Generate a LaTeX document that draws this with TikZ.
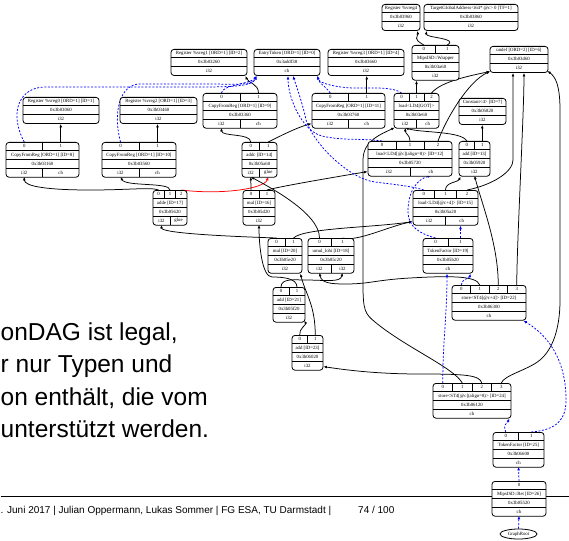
\documentclass[tikz,border=0pt]{standalone}
\usepackage{fontspec}
\setmainfont{Liberation Serif}
\newfontfamily\sansf{Liberation Sans}
\usetikzlibrary{arrows.meta,calc,shapes.geometric}
\pgfdeclarelayer{bg}
\pgfsetlayers{bg,main}
\def\rh{8.7}
\tikzset{
  dagbox/.style={draw, rounded corners=3pt, fill=white, line width=0.8pt, inner sep=0pt},
  div/.style={line width=0.45pt},
  dtxt/.style={inner sep=0pt, font=\fontsize{4.8}{5}\selectfont},
  dataedge/.style={line width=0.75pt, -{Latex[length=3.5pt,width=2.8pt]}},
  chainedge/.style={dataedge, blue, dash pattern=on 2pt off 1.6pt},
  glueedge/.style={dataedge, red},
  bodytext/.style={anchor=base west, inner sep=0pt, font=\sansf\fontsize{24.5}{29}\selectfont},
  foottext/.style={anchor=base west, inner sep=0pt, font=\sansf\fontsize{10}{12}\selectfont},
}
% #1 name #2 cx #3 top #4 width #5 nports #6 label #7 address #8 ntypes #9 types
\newcommand\dn[9]{%
  \pgfmathsetmacro\dnL{#2-(#4)/2}%
  \pgfmathsetmacro\dnR{#2+(#4)/2}%
  \ifnum#5>0 \def\dnoff{\rh}\def\dnrows{4}\else\def\dnoff{0}\def\dnrows{3}\fi
  \pgfmathsetmacro\dnH{\dnrows*\rh}%
  \pgfmathsetmacro\dnA{#3+\dnoff}%
  \node[dagbox,minimum width=#4pt,minimum height=\dnH pt,anchor=north] (#1) at (#2,#3) {};
  \ifnum#5>0
    \draw[div] (\dnL,\dnA) -- (\dnR,\dnA);
    \foreach \pidx in {1,...,#5}{%
      \pgfmathsetmacro\cx{\dnL+(\pidx-0.5)*(#4)/(#5)}%
      \pgfmathtruncatemacro\pj{\pidx-1}%
      \node[dtxt] at (\cx,{#3+\rh/2}) {\pj};
      \coordinate (#1-p\pj) at (\cx,#3);
      \ifnum\pidx>1 \pgfmathsetmacro\vx{\dnL+(\pidx-1)*(#4)/(#5)}\draw[div] (\vx,#3) -- (\vx,\dnA);\fi
    }%
  \fi
  \node[dtxt] at (#2,{\dnA+\rh/2}) {#6};
  \draw[div] (\dnL,{\dnA+\rh}) -- (\dnR,{\dnA+\rh});
  \node[dtxt] at (#2,{\dnA+1.5*\rh}) {#7};
  \draw[div] (\dnL,{\dnA+2*\rh}) -- (\dnR,{\dnA+2*\rh});
  \foreach \tp [count=\tk] in {#9}{%
    \pgfmathsetmacro\cx{\dnL+(\tk-0.5)*(#4)/(#8)}%
    \pgfmathtruncatemacro\tj{\tk-1}%
    \node[dtxt] at (\cx,{\dnA+2.5*\rh}) {\tp};
    \coordinate (#1-t\tj) at (\cx,{\dnA+3*\rh});
    \ifnum\tk>1 \pgfmathsetmacro\vx{\dnL+(\tk-1)*(#4)/(#8)}\draw[div] (\vx,{\dnA+2*\rh}) -- (\vx,{\dnA+3*\rh});\fi
  }%
}
\begin{document}
\begin{tikzpicture}[x=1pt,y=-1pt]
\useasboundingbox (0,0) rectangle (569,540);
% slide text
\node[bodytext] (t1) at (0.5,340) {onDAG ist legal,};
\node[bodytext] (t2) at (0.5,372.5) {r nur Typen und};
\node[bodytext] (t3) at (0.5,405) {on enthält, die vom};
\node[bodytext] (t4) at (0.5,437.5) {unterstützt werden.};
\node[foottext] (f1) at (0.5,513.5) {. Juni 2017 | Julian Oppermann, Lukas Sommer | FG ESA, TU Darmstadt |};
\node[foottext] (f2) at (358,513.5) {74 / 100};
% DAG nodes
\dn{vreg4}{401}{4}{38}{0}{Register \%vreg4}{0x3b03960}{1}{i32}
\dn{tga}{471}{4}{94}{0}{TargetGlobalAddress<i64* @c> 0 [TF=1]}{0x3b03860}{1}{i32}
\dn{wrap}{435.5}{45}{47}{2}{MipsISD::Wrapper}{0x3b03a60}{1}{i32}
\dn{undef}{519}{46}{58}{0}{undef [ORD=2] [ID=6]}{0x3b03d60}{1}{i32}
\dn{vreg1}{209}{49}{76}{0}{Register \%vreg1 [ORD=1] [ID=2]}{0x3b03260}{1}{i32}
\dn{entry}{287}{49}{66}{0}{EntryToken [ORD=1] [ID=0]}{0x3addf38}{1}{ch}
\dn{vreg3}{366}{49}{76}{0}{Register \%vreg3 [ORD=1] [ID=4]}{0x3b03660}{1}{i32}
\dn{vreg0}{61}{97}{76}{0}{Register \%vreg0 [ORD=1] [ID=1]}{0x3b03060}{1}{i32}
\dn{vreg2}{158.5}{97}{77}{0}{Register \%vreg2 [ORD=1] [ID=3]}{0x3b03460}{1}{i32}
\dn{cfr8}{42.5}{142}{73}{2}{CopyFromReg [ORD=1] [ID=8]}{0x3b03160}{2}{i32,ch}
\dn{cfr10}{139}{142}{74}{2}{CopyFromReg [ORD=1] [ID=10]}{0x3b03560}{2}{i32,ch}
\dn{cfr9}{240}{93}{74}{2}{CopyFromReg [ORD=1] [ID=9]}{0x3b03360}{2}{i32,ch}
\dn{cfr11}{348.5}{93}{73}{2}{CopyFromReg [ORD=1] [ID=11]}{0x3b03760}{2}{i32,ch}
\dn{got}{416.5}{93}{45}{3}{load<LD4[GOT]>}{0x3b03e60}{2}{i32,ch}
\dn{const}{482.5}{98}{47}{0}{Constant<4> [ID=7]}{0x3b05820}{1}{i32}
\dn{addc}{259.5}{142}{35}{2}{addc [ID=14]}{0x3b05a60}{2}{i32,glue}
\dn{ld12}{410}{141}{84}{3}{load<LD4[@c](align=8)> [ID=12]}{0x3b05720}{2}{i32,ch}
\dn{add13}{474.5}{141}{31}{2}{add [ID=13]}{0x3b05920}{1}{i32}
\dn{adde}{170}{190}{34}{3}{adde [ID=17]}{0x3b05620}{2}{i32,glue}
\dn{mul16}{259}{190}{32}{2}{mul [ID=16]}{0x3b05d20}{1}{i32}
\dn{ld15}{445.5}{190}{65}{3}{load<LD4[@c+4]> [ID=15]}{0x3b05a20}{2}{i32,ch}
\dn{tf19}{448}{238}{50}{2}{TokenFactor [ID=19]}{0x3b05b20}{1}{ch}
\dn{mul20}{285}{238}{34}{2}{mul [ID=20]}{0x3b05e20}{1}{i32}
\dn{umul}{331}{238}{46}{2}{umul\_lohi [ID=18]}{0x3b05c20}{2}{i32,i32}
\dn{add21}{289}{287}{32}{2}{add [ID=21]}{0x3b05f20}{1}{i32}
\dn{add23}{307.5}{335}{31}{2}{add [ID=23]}{0x3b06020}{1}{i32}
\dn{st22}{489}{285}{74}{4}{store<ST4[@c+4]> [ID=22]}{0x3b06300}{1}{ch}
\dn{st24}{472}{383}{78}{4}{store<ST4[@c](align=8)> [ID=24]}{0x3b06120}{1}{ch}
\dn{tf25}{518.5}{432}{51}{2}{TokenFactor [ID=25]}{0x3b06600}{1}{ch}
\dn{ret}{519}{481}{54}{1}{MipsISD::Ret [ID=26]}{0x3b05520}{1}{ch}
\node[draw, ellipse, fill=white, line width=0.8pt, minimum width=37pt, minimum height=10pt, inner sep=0pt, font=\fontsize{4.8}{5}\selectfont] (root) at (518.5,534) {GraphRoot};
\begin{pgfonlayer}{bg}
\draw[line width=0.7pt] (f1.north west |- 0,496.7) -- (569,496.7);
% data edges
\draw[dataedge] (wrap-p0) .. controls +(-12,-7) and +(1,7) .. ($(vreg4.south east)+(-3,0)$);
\draw[dataedge] (wrap-p1) .. controls +(12,-7) and +(-1,7) .. ($(tga.south west)+(3,0)$);
\draw[dataedge] (cfr8-p1) -- (cfr8-p1 |- vreg0.south);
\draw[dataedge] (cfr10-p1) -- (cfr10-p1 |- vreg2.south);
\draw[dataedge] (cfr9-p1) .. controls +(0,-9) and +(3,7) .. ($(vreg1.south east)+(-2,0)$);
\draw[dataedge] (cfr11-p1) -- (cfr11-p1 |- vreg3.south);
\draw[dataedge] (got-p1) -- (got-p1 |- wrap.south);
\draw[dataedge] (got-p2) .. controls +(10,-12) and +(-18,4) .. ($(undef.south west)+(0.5,-1.5)$);
\draw[dataedge] (ld12-p2) .. controls +(8,-22) and +(-22,10) .. ($(undef.south west)+(0.5,-1.5)$);
\draw[dataedge] (addc-p0) .. controls +(0,-9) and +(0,9) .. (cfr9-t0);
\draw[dataedge] (addc-p1) .. controls +(12,-6) and +(-15,4) .. ($(cfr11.south west)+(0,-5)$);
\draw[dataedge] (adde-p0) .. controls +(-8,-3) and +(40,0) .. (90,190) .. controls +(-40,0) and +(0,10) .. (cfr8-t0);
\draw[dataedge] (adde-p1) .. controls +(0,-8) and +(5,10) .. (cfr10-t0);
\draw[glueedge] (adde-p2) .. controls +(40,5) and +(-4,12) .. (addc-t1);
\draw[dataedge] (mul16-p0) -- (addc-t0);
\draw[dataedge] (umul-p0) .. controls +(0,-25) and +(18,10) .. (addc-t0);
\draw[dataedge] (mul16-p1) .. controls +(15,-4) and +(-30,5) .. ($(ld12.south west)+(0,-5)$);
\draw[dataedge] (umul-p1) .. controls +(15,4) and +(-25,5) .. ($(ld15.south west)+(0,-4)$);
\draw[dataedge] (mul20-p1) .. controls +(10,-10) and +(-40,6) .. ($(ld15.south west)+(0,-4)$);
\draw[dataedge] (mul20-p0) .. controls +(-60,-2) and +(0,8) .. (adde-t0);
\draw[dataedge] (add21-p0) .. controls +(0,-9) and +(-10,0) .. (305,280) .. controls +(20,0) and +(-2,10) .. (umul-t1);
\draw[dataedge] (add21-p1) .. controls +(0,-9) and +(10,0) .. (272,277) .. controls +(-10,0) and +(0,20) .. (mul16-t0);
\draw[dataedge] (st22-p1) .. controls +(-3,-10) and +(35,-2) .. (410,278) .. controls +(-35,2) and +(25,0) .. (345,284) .. controls +(-15,0) and +(2,10) .. (umul-t0);
\draw[dataedge] (add23-p0) .. controls +(-1,-6) and +(2,4) .. ($(add21.south east)+(-1,-2)$);
\draw[dataedge] (add23-p1) .. controls +(0,-30) and +(5,20) .. ($(mul20.south east)+(-2,0)$);
\draw[dataedge] (st24-p2) .. controls +(-2,-8) and +(45,0) .. (420,374) .. controls +(-45,0) and +(20,3) .. ($(add23.south east)+(0,-4)$);
\draw[dataedge] (st24-p1) .. controls +(-8,-15) and +(30,25) .. (375,322) .. controls +(-10,-8) and +(0,25) .. (363,285) -- (363,160) .. controls +(0,-20) and +(-12,6) .. ($(got.south west)+(1,-1)$);
\draw[dataedge] (st24-p3) .. controls +(3,-8) and +(-12,10) .. (540,360) .. controls +(12,-10) and +(0,30) .. (560,300) -- (560,110) .. controls +(0,-25) and +(8,6) .. ($(undef.south east)+(-1,-2)$);
\draw[dataedge] (st22-p3) .. controls +(0,-40) and +(0,40) .. ($(undef.south)+(5,0)$);
\draw[dataedge] (st22-p2) .. controls +(0,-40) and +(8,30) .. (add13-t0);
\draw[dataedge] (ld15-p1) .. controls +(0,-8) and +(-3,6) .. ($(add13.south west)+(2,0)$);
\draw[dataedge] (ld15-p2) .. controls +(25,-5) and +(0,12) .. (513,160) -- ($(undef.south)+(-6,0)$);
\draw[dataedge] (add13-p0) .. controls +(-5,-10) and +(15,5) .. (got-t0);
\draw[dataedge] (add13-p1) -- (add13-p1 |- const.south);
\draw[dataedge] (ld12-p1) .. controls +(0,-6) and +(0,6) .. (got-t0);
% chain edges
\draw[chainedge] (cfr8-p0) .. controls +(-16,-30) and +(-25,0) .. (45,87) .. controls +(60,0) and +(-60,0) .. (200,87) .. controls +(35,0) and +(-4,10) .. ($(entry.south west)+(3,0)$);
\draw[chainedge] (cfr10-p0) .. controls +(-8,-30) and +(-20,0) .. (140,84) .. controls +(30,0) and +(-30,0) .. (205,84) .. controls +(30,0) and +(-4,10) .. ($(entry.south west)+(3,0)$);
\draw[chainedge] (cfr9-p0) .. controls +(0,-8) and +(-6,8) .. ($(entry.south west)+(3,0)$);
\draw[chainedge] (cfr11-p0) .. controls +(-6,-8) and +(2,8) .. ($(entry.south east)+(-3,0)$);
\draw[chainedge] (got-p0) .. controls +(-8,-6) and +(20,0) .. (355,88) .. controls +(-15,0) and +(2,8) .. ($(entry.south east)+(-3,0)$);
\draw[chainedge] (ld12-p0) .. controls +(-20,-3) and +(20,5) .. (322,136) .. controls +(-20,-5) and +(0,22) .. ($(entry.south)+(1,0)$);
\draw[chainedge] (ld15-p0) .. controls +(-12,-4) and +(15,2) .. (375,182) .. controls +(-25,-3) and +(8,25) .. (306,120) .. controls +(-3,-15) and +(4,12) .. ($(entry.south)+(6,0)$);
\draw[chainedge] (tf19-p0) .. controls +(-15,-4) and +(0,15) .. (408,212) .. controls +(0,-22) and +(-13,3) .. (ld12-t1);
\draw[chainedge] (tf19-p1) -- (tf19-p1 |- ld15.south);
\draw[chainedge] (st22-p0) .. controls +(0,-6) and +(-1,5) .. ($(tf19.south east)+(-3,0)$);
\draw[chainedge] (st24-p0) .. controls +(0,-40) and +(0,40) .. ($(tf19.south)+(-1,0)$);
\draw[chainedge] (tf25-p0) .. controls +(-3,-8) and +(-3,6) .. ($(st24.south east)+(-2,0)$);
\draw[chainedge] (tf25-p1) .. controls +(25,-2) and +(0,20) .. (566,400) .. controls +(0,-40) and +(25,15) .. ($(st22.south east)+(-3,0)$);
\draw[chainedge] (ret-p0) -- (tf25-t0);
\draw[chainedge] (root.north) -- (ret-t0);
\end{pgfonlayer}
\end{tikzpicture}
\end{document}
